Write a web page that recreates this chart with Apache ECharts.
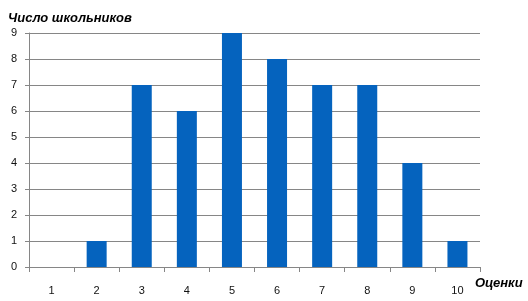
<!DOCTYPE html>
<html><head><meta charset="utf-8">
<script src="https://cdn.jsdelivr.net/npm/echarts@6/dist/echarts.min.js"></script>
<style>html,body{margin:0;padding:0;background:#fff}#c{width:528px;height:301px}</style>
</head><body><div id="c"></div>
<script>
const categories = ['1','2','3','4','5','6','7','8','9','10'];
const values = [0,1,7,6,9,8,7,7,4,1];
const yTicks = [0,1,2,3,4,5,6,7,8,9];
const chart = echarts.init(document.getElementById('c'), null, {renderer:'canvas'});
chart.setOption({
  animation:false,
  grid:{left:29,right:48,top:33,bottom:34},
  title:{text:'Число школьников',left:3,top:7,textStyle:{fontFamily:'Liberation Sans',fontSize:13,fontWeight:'bold',fontStyle:'italic',color:'#000'}},
  xAxis:{type:'category',data:categories,
    axisLine:{lineStyle:{color:'#868686',width:1}},
    axisTick:{show:true,length:5,lineStyle:{color:'#868686'}},
    axisLabel:{fontFamily:'Liberation Sans',fontSize:11,color:'#111',margin:18},
    name:'Оценки',nameLocation:'end',nameGap:0,
    nameTextStyle:{fontFamily:'Liberation Sans',fontSize:13,fontWeight:'bold',fontStyle:'italic',color:'#000',align:'left',verticalAlign:'top',padding:[10,0,0,-5]}},
  yAxis:{type:'value',min:yTicks[0],max:yTicks[yTicks.length-1],interval:1,
    axisLine:{show:true,lineStyle:{color:'#868686'}},
    axisTick:{show:true,length:4,lineStyle:{color:'#868686'}},
    splitLine:{lineStyle:{color:'#868686',width:1}},
    axisLabel:{fontFamily:'Liberation Sans',fontSize:11,color:'#111',margin:12}},
  series:[{type:'bar',data:values,barWidth:20,itemStyle:{color:'#0563BE'}}]
});
</script></body></html>
